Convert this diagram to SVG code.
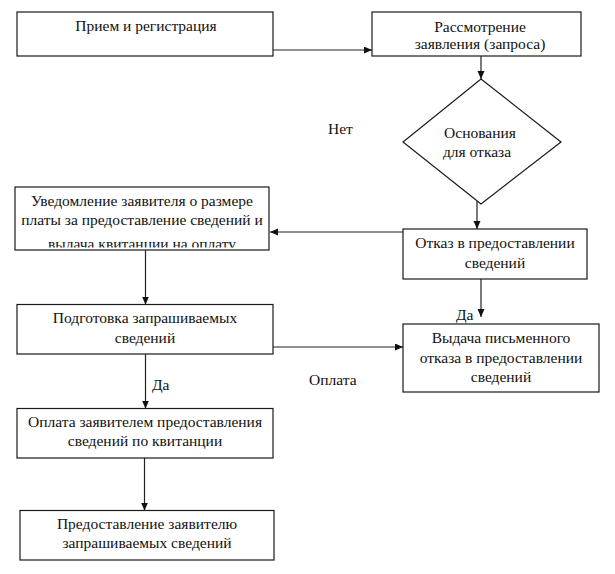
<svg xmlns="http://www.w3.org/2000/svg" width="615" height="574" viewBox="0 0 615 574" font-family="'Liberation Serif', 'Times New Roman', 'DejaVu Serif', serif">
<defs>
<style>
.box{fill:#fff;stroke:#1a1a1a;stroke-width:1.2}
.t{font-family:'Liberation Serif','Times New Roman','DejaVu Serif',serif;font-size:15.5px;fill:#111;text-anchor:middle}
.l{font-family:'Liberation Serif','Times New Roman','DejaVu Serif',serif;font-size:15.5px;fill:#111}
.c{stroke:#222;stroke-width:1.2;fill:none;marker-end:url(#ah)}
</style>
<marker id="ah" markerUnits="userSpaceOnUse" markerWidth="9" markerHeight="8" refX="8" refY="3.5" orient="auto">
<path d="M0,0 L8,3.5 L0,7 z" fill="#111"/>
</marker>
<clipPath id="clip3"><rect x="15" y="187" width="254" height="60.5"/></clipPath>
</defs>
<rect width="615" height="574" fill="#fff"/>
<g id="connectors">
<line class="c" x1="273" y1="50" x2="372" y2="50"/>
<line class="c" x1="481" y1="56" x2="481" y2="79"/>
<line class="c" x1="477" y1="201" x2="477" y2="229"/>
<line class="c" x1="403" y1="232" x2="270" y2="232"/>
<line class="c" x1="145.5" y1="250" x2="145.5" y2="304.5"/>
<line class="c" x1="481" y1="279" x2="481" y2="317"/>
<line class="c" x1="273" y1="347" x2="403" y2="347"/>
<line class="c" x1="145.5" y1="354" x2="145.5" y2="408.5"/>
<line class="c" x1="144.5" y1="458" x2="144.5" y2="510.5"/>
</g>
<g id="labels">
<text class="l" x="328" y="134">Нет</text>
<text class="l" x="456" y="320">Да</text>
<text class="l" x="309" y="385">Оплата</text>
<text class="l" x="152" y="390">Да</text>
</g>
<g id="n1">
<rect class="box" x="17" y="12" width="256" height="44"/>
<text class="t" x="146" y="31">Прием и регистрация</text>
</g>
<g id="n2">
<rect class="box" x="372" y="12" width="209" height="44"/>
<text class="t" x="480" y="32">Рассмотрение</text>
<text class="t" x="480" y="49">заявления (запроса)</text>
</g>
<g id="n3">
<polygon class="box" points="481,79 561,142 481,204 403,142"/>
<text class="t" x="480" y="138">Основания</text>
<text class="t" x="477" y="157">для отказа</text>
</g>
<g id="n4">
<rect class="box" x="15" y="187" width="254" height="63"/>
<text class="t" x="142" y="206">Уведомление заявителя о размере</text>
<text class="t" x="142" y="225">платы за предоставление сведений и</text>
<text class="t" x="142" y="248.5" clip-path="url(#clip3)">выдача квитанции на оплату</text>
</g>
<g id="n5">
<rect class="box" x="403" y="229" width="184" height="50"/>
<text class="t" x="495" y="248">Отказ в предоставлении</text>
<text class="t" x="495" y="268">сведений</text>
</g>
<g id="n6">
<rect class="box" x="17" y="304.5" width="256" height="49.5"/>
<text class="t" x="145" y="323">Подготовка запрашиваемых</text>
<text class="t" x="145" y="343">сведений</text>
</g>
<g id="n7">
<rect class="box" x="403" y="324" width="196" height="68"/>
<text class="t" x="501" y="343">Выдача письменного</text>
<text class="t" x="501" y="363">отказа в предоставлении</text>
<text class="t" x="501" y="382">сведений</text>
</g>
<g id="n8">
<rect class="box" x="17" y="408.5" width="256" height="49.5"/>
<text class="t" x="145" y="427">Оплата заявителем предоставления</text>
<text class="t" x="145" y="446">сведений по квитанции</text>
</g>
<g id="n9">
<rect class="box" x="20" y="510.5" width="254" height="49.5"/>
<text class="t" x="147" y="529">Предоставление заявителю</text>
<text class="t" x="147" y="548">запрашиваемых сведений</text>
</g>
</svg>
